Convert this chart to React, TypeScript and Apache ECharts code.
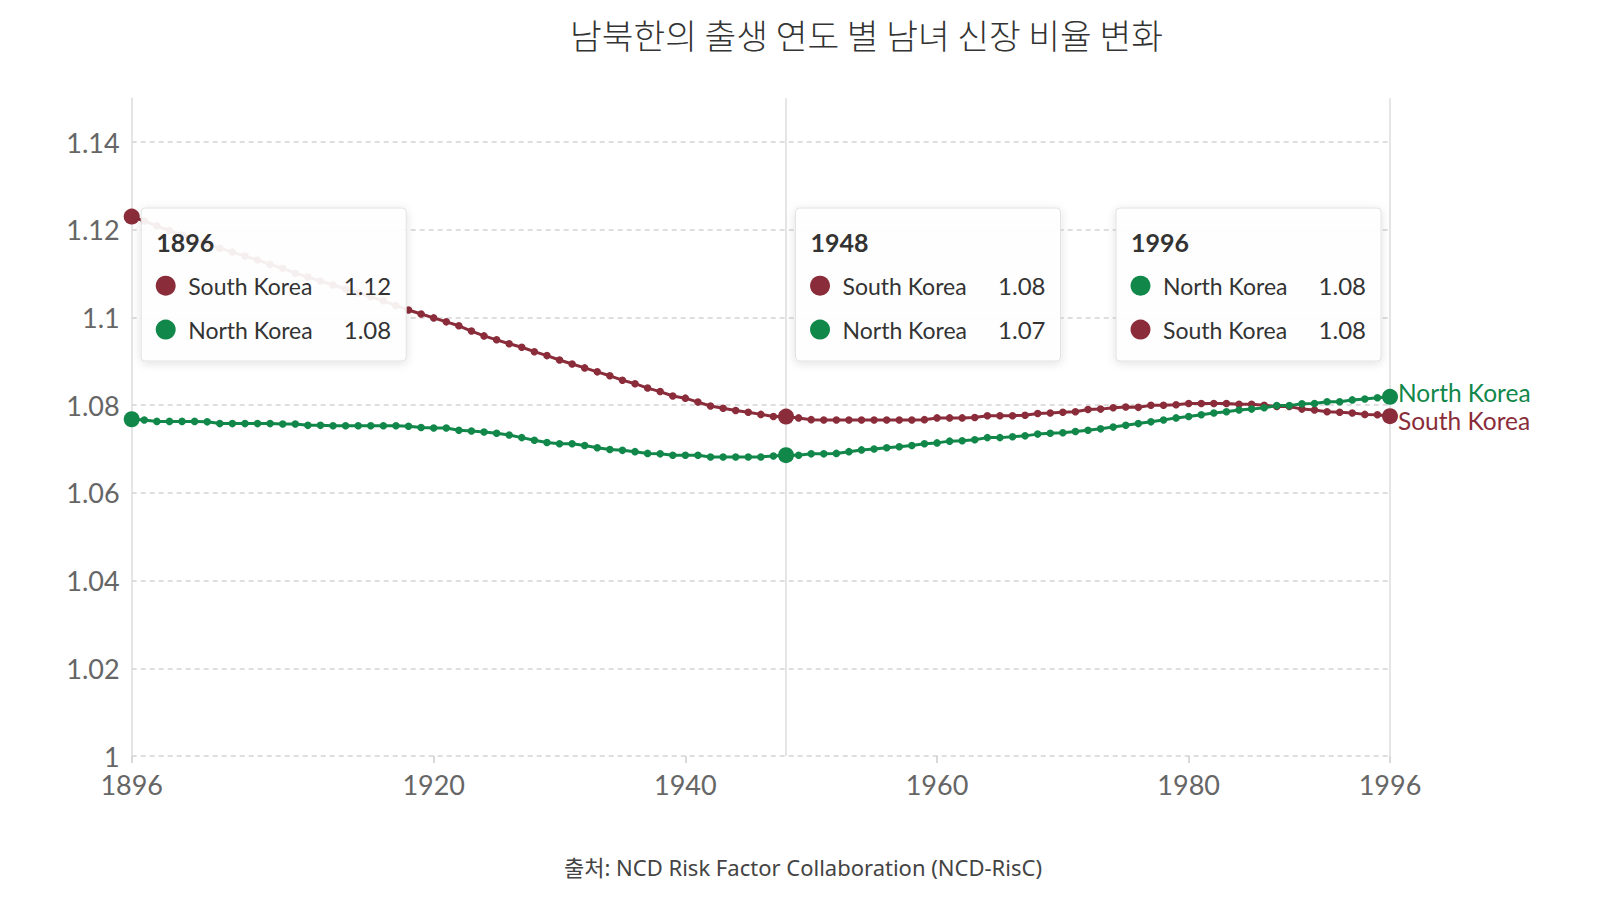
import React, { useEffect, useRef } from "react";
import * as echarts from "echarts";

const TITLE = "남북한의 출생 연도 별 남녀 신장 비율 변화";
const SOURCE = "출처: NCD Risk Factor Collaboration (NCD-RisC)";

const START_YEAR = 1896;

const southKorea: number[] = [
  1.1230, 1.1220, 1.1209, 1.1198, 1.1188, 1.1178, 1.1168, 1.1158, 1.1149, 1.1140,
  1.1131, 1.1121, 1.1112, 1.1101, 1.1092, 1.1083, 1.1074, 1.1065, 1.1056, 1.1047,
  1.1038, 1.1027, 1.1017, 1.1008, 1.0999, 1.0990, 1.0981, 1.0969, 1.0958, 1.0949,
  1.0940, 1.0932, 1.0922, 1.0913, 1.0903, 1.0894, 1.0885, 1.0876, 1.0867, 1.0857,
  1.0849, 1.0839, 1.0831, 1.0821, 1.0816, 1.0807, 1.0798, 1.0793, 1.0788, 1.0784,
  1.0779, 1.0774, 1.0774, 1.0771, 1.0767, 1.0766, 1.0766, 1.0766, 1.0766, 1.0766,
  1.0766, 1.0766, 1.0766, 1.0767, 1.0771, 1.0771, 1.0771, 1.0772, 1.0776, 1.0776,
  1.0776, 1.0777, 1.0781, 1.0782, 1.0784, 1.0785, 1.0790, 1.0791, 1.0794, 1.0796,
  1.0795, 1.0800, 1.0800, 1.0801, 1.0804, 1.0804, 1.0804, 1.0804, 1.0802, 1.0802,
  1.0800, 1.0797, 1.0797, 1.0791, 1.0789, 1.0785, 1.0784, 1.0782, 1.0779, 1.0778,
  1.0775,
];

const northKorea: number[] = [
  1.0768, 1.0766, 1.0763, 1.0763, 1.0763, 1.0763, 1.0762, 1.0758, 1.0758, 1.0758,
  1.0758, 1.0758, 1.0757, 1.0757, 1.0754, 1.0754, 1.0753, 1.0753, 1.0753, 1.0753,
  1.0753, 1.0753, 1.0752, 1.0749, 1.0748, 1.0748, 1.0743, 1.0741, 1.0739, 1.0736,
  1.0732, 1.0726, 1.0720, 1.0715, 1.0712, 1.0712, 1.0708, 1.0703, 1.0699, 1.0697,
  1.0694, 1.0690, 1.0689, 1.0686, 1.0686, 1.0686, 1.0682, 1.0682, 1.0682, 1.0682,
  1.0682, 1.0684, 1.0686, 1.0686, 1.0689, 1.0689, 1.0690, 1.0694, 1.0698, 1.0700,
  1.0703, 1.0705, 1.0708, 1.0712, 1.0714, 1.0718, 1.0719, 1.0721, 1.0726, 1.0726,
  1.0728, 1.0730, 1.0734, 1.0736, 1.0737, 1.0740, 1.0743, 1.0746, 1.0750, 1.0754,
  1.0758, 1.0762, 1.0766, 1.0771, 1.0774, 1.0778, 1.0782, 1.0785, 1.0789, 1.0791,
  1.0794, 1.0799, 1.0799, 1.0803, 1.0804, 1.0808, 1.0808, 1.0812, 1.0814, 1.0817,
  1.0819,
];

const years: number[] = southKorea.map((_, i) => START_YEAR + i);

const xTickValues: number[] = [1896, 1920, 1940, 1960, 1980, 1996];
const highlightYears: number[] = [1896, 1948, 1996];

const seriesNames: string[] = ["South Korea", "North Korea"];
const seriesColors: string[] = ["#8a2c3a", "#11874a"];
const seriesValues: number[][] = [southKorea, northKorea];
const endLabelOffsets: number[] = [4, -4];

const BOX_W = 265;
const BOX_H = 153;
const BOX_TOP = 208;
const BOX_Z = 100;

export default function App() {
  const ref = useRef<HTMLDivElement>(null);

  useEffect(() => {
    if (!ref.current) return;
    const chart = echarts.init(ref.current, null, { renderer: "svg" });

    const series: any[] = seriesNames.map((name, si) => ({
      name,
      type: "line",
      data: years.map((y, i) => [y, seriesValues[si][i]]),
      color: seriesColors[si],
      lineStyle: { width: 3, color: seriesColors[si] },
      itemStyle: { color: seriesColors[si] },
      symbol: "circle",
      symbolSize: (v: number[]) => (highlightYears.includes(v[0]) ? 16 : 7.5),
      showAllSymbol: true,
      z: 3,
      endLabel: {
        show: true,
        formatter: "{a}",
        color: seriesColors[si],
        fontSize: 24.5,
        fontFamily: "Lato, sans-serif",
        distance: 8,
        offset: [0, endLabelOffsets[si]],
      },
      markLine:
        si === 0
          ? {
              silent: true,
              symbol: "none",
              z: 1,
              label: { show: false },
              lineStyle: { color: "#dddddd", type: "solid", width: 1.5 },
              data: [{ xAxis: 1948 }, { xAxis: 1996 }],
            }
          : undefined,
    }));

    const option: any = {
      animation: false,
      backgroundColor: "#ffffff",
      textStyle: { fontFamily: "Lato, sans-serif" },
      title: [
        {
          text: TITLE,
          left: 570,
          top: 17,
          padding: 0,
          textStyle: {
            fontFamily: '"Noto Sans CJK KR", sans-serif',
            fontSize: 34.5,
            fontWeight: 300,
            color: "#333333",
          },
        },
        {
          text: SOURCE,
          left: 564,
          top: 856,
          padding: 0,
          textStyle: {
            fontFamily: '"Noto Sans", "Noto Sans CJK KR", sans-serif',
            fontSize: 22,
            fontWeight: "normal",
            color: "#444444",
          },
        },
      ],
      grid: { left: 131.7, right: 210, top: 98.2, bottom: 144 },
      xAxis: {
        type: "value",
        min: 1896,
        max: 1996,
        axisLine: { show: false },
        axisTick: {
          show: true,
          length: 7,
          lineStyle: { color: "#cccccc", width: 1.5 },
          customValues: xTickValues,
        },
        axisLabel: {
          customValues: xTickValues,
          formatter: (v: number) => String(v),
          fontSize: 27,
          lineHeight: 22,
          color: "#666666",
          margin: 17,
          fontFamily: "Lato, sans-serif",
        },
        splitLine: { show: false },
      },
      yAxis: {
        type: "value",
        min: 1,
        max: 1.15,
        interval: 0.02,
        axisLine: { show: true, lineStyle: { color: "#dddddd", width: 1.5 } },
        axisTick: { show: false },
        axisLabel: {
          fontSize: 27,
          lineHeight: 20,
          color: "#666666",
          margin: 12,
          showMaxLabel: false,
          fontFamily: "Lato, sans-serif",
        },
        splitLine: {
          show: true,
          showMaxLine: false,
          lineStyle: { type: [5, 4], color: "#d4d4d4", width: 1.5 },
        },
      },
      series,
    };

    chart.setOption(option);

    const boxes = highlightYears.map((year, bi) => {
      const idx = years.indexOf(year);
      const px = chart.convertToPixel({ xAxisIndex: 0 }, year) as number;
      const left = bi === highlightYears.length - 1 ? px - 9 - BOX_W : px + 9.5;
      const rows = seriesNames
        .map((name, si) => ({ name, color: seriesColors[si], value: seriesValues[si][idx] }))
        .sort((a, b) => b.value - a.value);
      const children: any[] = [
        {
          type: "rect",
          z: BOX_Z,
          shape: { x: 0, y: 0, width: BOX_W, height: BOX_H, r: 4 },
          style: {
            fill: "rgba(255,255,255,0.92)",
            stroke: "#e2e2e2",
            lineWidth: 1,
            shadowBlur: 10,
            shadowColor: "rgba(0,0,0,0.13)",
            shadowOffsetY: 2,
          },
        },
        {
          type: "text",
          z: BOX_Z + 1,
          x: 15,
          y: 34,
          style: {
            text: String(year),
            fontFamily: "Lato, sans-serif",
            fontWeight: "bold",
            fontSize: 25,
            fill: "#333333",
            align: "left",
            verticalAlign: "middle",
          },
        },
      ];
      rows.forEach((r, ri) => {
        const cy = 77.7 + ri * 43.9;
        children.push(
          {
            type: "circle",
            z: BOX_Z + 1,
            shape: { cx: 24.5, cy, r: 10 },
            style: { fill: r.color },
          },
          {
            type: "text",
            z: BOX_Z + 1,
            x: 47,
            y: cy,
            style: {
              text: r.name,
              fontFamily: "Lato, sans-serif",
              fontSize: 23,
              fill: "#333333",
              align: "left",
              verticalAlign: "middle",
            },
          },
          {
            type: "text",
            z: BOX_Z + 1,
            x: BOX_W - 15,
            y: cy,
            style: {
              text: r.value.toFixed(2),
              fontFamily: "Lato, sans-serif",
              fontSize: 24,
              fill: "#333333",
              align: "right",
              verticalAlign: "middle",
            },
          }
        );
      });
      return {
        type: "group",
        x: left,
        y: BOX_TOP,
        z: BOX_Z,
        children,
      };
    });

    chart.setOption({ graphic: { elements: boxes } });

    return () => {
      chart.dispose();
    };
  }, []);

  return (
    <div
      ref={ref}
      style={{ position: "absolute", left: 0, top: 0, width: 1600, height: 900, background: "#fff" }}
    />
  );
}
